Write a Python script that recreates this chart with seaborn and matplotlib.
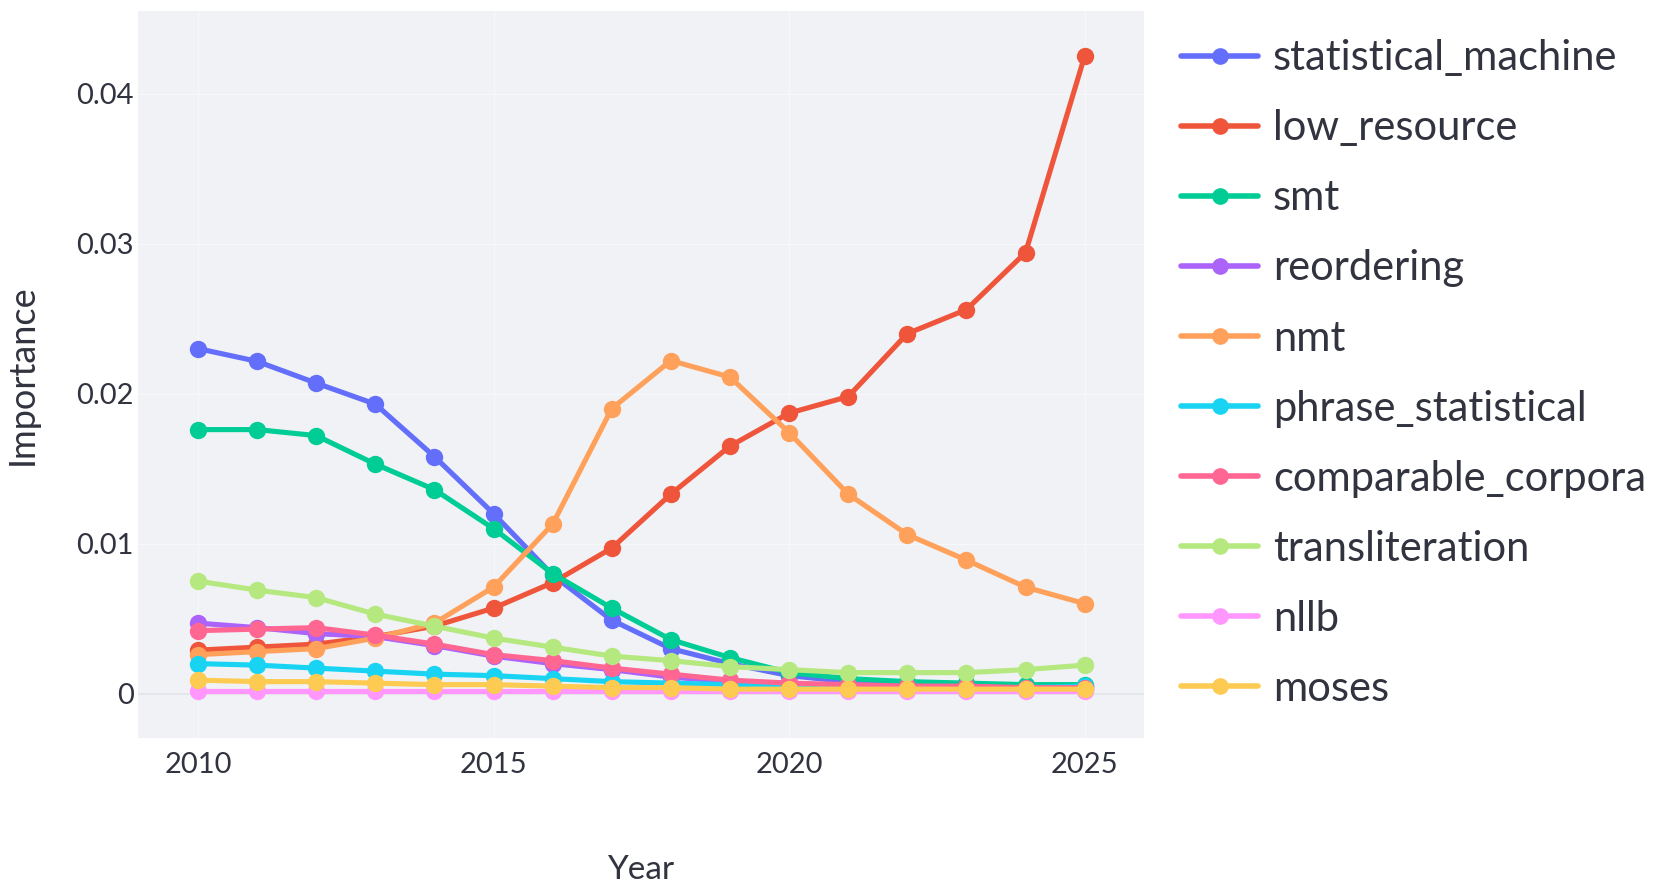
import matplotlib
matplotlib.use("Agg")
import matplotlib.pyplot as plt
import seaborn as sns
import pandas as pd

years = list(range(2010, 2026))

statistical_machine = [0.0230, 0.02215, 0.0207, 0.0193, 0.0158, 0.0120, 0.0079, 0.0049,
                       0.0030, 0.0020, 0.0012, 0.0008, 0.0006, 0.0005, 0.0005, 0.0005]
low_resource = [0.0029, 0.0031, 0.0033, 0.0038, 0.0045, 0.0057, 0.0074, 0.0097,
                0.0133, 0.0165, 0.0187, 0.0198, 0.0240, 0.0256, 0.0294, 0.0425]
smt = [0.0176, 0.0176, 0.0172, 0.0153, 0.0136, 0.0110, 0.0080, 0.0057,
       0.0036, 0.0024, 0.0014, 0.0010, 0.0008, 0.0007, 0.0006, 0.0006]
reordering = [0.0047, 0.0044, 0.0040, 0.0038, 0.0032, 0.0025, 0.0020, 0.0016,
              0.0011, 0.0008, 0.0007, 0.0005, 0.0004, 0.0004, 0.0003, 0.0003]
nmt = [0.0026, 0.0028, 0.0030, 0.0037, 0.0047, 0.0071, 0.0113, 0.0190,
       0.0222, 0.0211, 0.0174, 0.0133, 0.0106, 0.0089, 0.0071, 0.0060]
phrase_statistical = [0.0020, 0.0019, 0.0017, 0.0015, 0.0013, 0.0012, 0.0010, 0.0008,
                      0.0007, 0.0006, 0.0005, 0.0005, 0.0004, 0.0004, 0.0004, 0.0005]
comparable_corpora = [0.0042, 0.0043, 0.0044, 0.0039, 0.0033, 0.0026, 0.0022, 0.0017,
                      0.0013, 0.0009, 0.0007, 0.0006, 0.0005, 0.0005, 0.0004, 0.0004]
transliteration = [0.0075, 0.0069, 0.0064, 0.0053, 0.0045, 0.0037, 0.0031, 0.0025,
                   0.0022, 0.0018, 0.0016, 0.0014, 0.0014, 0.0014, 0.0016, 0.0019]
nllb = [0.0002, 0.0002, 0.0002, 0.0002, 0.0002, 0.0002, 0.0002, 0.0002,
        0.0002, 0.0002, 0.0002, 0.0002, 0.0002, 0.0002, 0.0002, 0.0002]
moses = [0.0009, 0.0008, 0.0008, 0.0007, 0.0006, 0.0006, 0.0005, 0.0004,
         0.0004, 0.0003, 0.0003, 0.0003, 0.0003, 0.0003, 0.0003, 0.0003]

terms = ["statistical_machine", "low_resource", "smt", "reordering", "nmt",
         "phrase_statistical", "comparable_corpora", "transliteration", "nllb", "moses"]
series = [statistical_machine, low_resource, smt, reordering, nmt,
          phrase_statistical, comparable_corpora, transliteration, nllb, moses]
colors = ["#636EFA", "#EF553B", "#00CC96", "#AB63FA", "#FFA15A",
          "#19D3F3", "#FF6692", "#B6E880", "#FF97FF", "#FECB52"]

y_ticks = [0, 0.01, 0.02, 0.03, 0.04]
y_tick_labels = ["0", "0.01", "0.02", "0.03", "0.04"]
x_ticks = [2010, 2015, 2020, 2025]

# long-form table for seaborn
rows = []
for term, vals in zip(terms, series):
    for yr, v in zip(years, vals):
        rows.append({"Year": yr, "Importance": v, "term": term})
df = pd.DataFrame(rows)

sns.set_theme(style="white")
plt.rcParams["font.family"] = ["Lato", "DejaVu Sans"]
text_color = "#31333F"

fig = plt.figure(figsize=(16.61, 8.92), dpi=100)
ax = fig.add_axes([0.0829, 0.1726, 0.6057, 0.815])
ax.set_facecolor("#F0F2F6")

sns.lineplot(data=df, x="Year", y="Importance", hue="term", hue_order=terms,
             palette=colors, marker="o", markersize=12.5, markeredgewidth=0,
             linewidth=3.7, ax=ax, legend=False, zorder=3)

ax.set_xlim(2008.98, 2026.0)
ax.set_ylim(-0.00296, 0.0455)
ax.set_xticks(x_ticks)
ax.set_xticklabels([str(t) for t in x_ticks])
ax.set_yticks(y_ticks)
ax.set_yticklabels(y_tick_labels)
ax.grid(True, color="#F7F8FA", linewidth=0.8, zorder=0)
ax.axhline(0, color="#E2E5EA", linewidth=1.3, zorder=1)
for s in ax.spines.values():
    s.set_visible(False)
ax.tick_params(axis="x", length=0, labelsize=21, colors=text_color, pad=10)
ax.tick_params(axis="y", length=0, labelsize=21, colors=text_color, pad=3)
ax.set_xlabel("Year", fontsize=24, color=text_color)
ax.set_ylabel("Importance", fontsize=26, color=text_color)
ax.xaxis.set_label_coords(0.5, -0.161)
ax.yaxis.set_label_coords(-0.098, 0.5)

# legend
handles = [plt.Line2D([], [], color=c, marker="o", markersize=12, linewidth=4,
                      markeredgewidth=0) for c in colors]
fig.legend(handles, terms, loc="upper left", bbox_to_anchor=(0.711, 0.956),
           frameon=False, fontsize=30, handlelength=1.85, handletextpad=0.36,
           labelspacing=0.77, borderpad=0, borderaxespad=0, labelcolor=text_color)

fig.savefig("out.png", dpi=100, facecolor="white")
